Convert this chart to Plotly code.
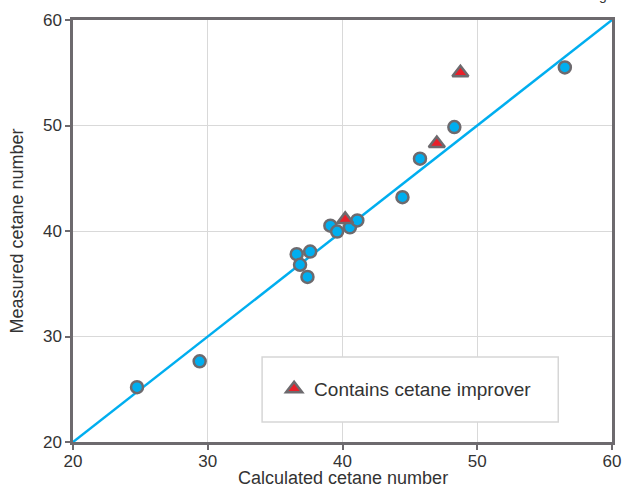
import plotly.graph_objects as go

# Data
calc_plain = [24.75, 29.4, 36.6, 36.85, 37.4, 37.6, 39.1, 39.6, 40.55, 41.1, 44.45, 45.75, 48.3, 56.5]
meas_plain = [25.2, 27.65, 37.8, 36.8, 35.65, 38.05, 40.5, 39.95, 40.35, 41.0, 43.2, 46.85, 49.85, 55.5]
calc_improver = [40.2, 47.0, 48.75]
meas_improver = [41.1, 48.3, 55.0]
parity_x = [20, 60]
parity_y = [20, 60]
tick_vals = [20, 30, 40, 50, 60]
x_title = "Calculated cetane number"
y_title = "Measured cetane number"
legend_label = "Contains cetane improver"

BLUE = "#00aeef"
RED = "#e8202a"
GREY = "#6d6a6e"
FONT = "Liberation Sans, Arial, sans-serif"
TXT = "#333333"

# plot area in page pixels: x 73..611.7, y 20..442
W, H = 622, 488
PL, PR, PT, PB = 73, 611.7, 20, 442
PW, PH = PR - PL, PB - PT


def px(xp):
    return (xp - PL) / PW


def py(yp):
    return (PB - yp) / PH


fig = go.Figure()
fig.add_trace(go.Scatter(x=parity_x, y=parity_y, mode="lines",
                         line=dict(color=BLUE, width=2.5), showlegend=False,
                         hoverinfo="skip", cliponaxis=False))
fig.add_trace(go.Scatter(x=calc_plain, y=meas_plain, mode="markers",
                         marker=dict(symbol="circle", size=12, color=BLUE,
                                     line=dict(color=GREY, width=2.5)),
                         showlegend=False))
fig.add_trace(go.Scatter(x=calc_improver, y=meas_improver, mode="markers",
                         name=legend_label,
                         marker=dict(symbol="triangle-up", size=14, color=RED,
                                     line=dict(color=GREY, width=2.5))))

axis_common = dict(range=[20, 60], tickvals=tick_vals, showgrid=True,
                   gridcolor="#d9d9d9", gridwidth=1, zeroline=False,
                   showline=True, linecolor=GREY, linewidth=2.5, mirror=True,
                   ticks="outside", ticklen=5, tickwidth=2, tickcolor=GREY,
                   automargin=False,
                   tickfont=dict(family=FONT, size=17, color=TXT))

fig.update_xaxes(**axis_common, ticklabelstandoff=-3)
fig.update_yaxes(**axis_common,
                 title=dict(text=y_title, standoff=15,
                            font=dict(family=FONT, size=18, color=TXT)))

# x-axis title placed as text under the axis
fig.add_annotation(text=x_title, xref="paper", yref="paper",
                   x=0.5, y=py(478), xanchor="center", yanchor="middle",
                   showarrow=False, font=dict(family=FONT, size=18, color=TXT))

# legend box
fig.add_shape(type="rect", xref="paper", yref="paper",
              x0=px(262), x1=px(558), y0=py(422), y1=py(357),
              line=dict(color="#d6d6d6", width=1.5), fillcolor="white", layer="above")

# text fragment clipped at the top edge of the reference
fig.add_annotation(text="g", xref="paper", yref="paper",
                   x=px(603), y=py(-5), xanchor="center", yanchor="middle",
                   showarrow=False, font=dict(family=FONT, size=14, color=TXT))

fig.update_layout(
    width=W, height=H,
    margin=dict(l=PL, r=W - PR, t=PT, b=H - PB),
    plot_bgcolor="white", paper_bgcolor="white",
    font=dict(family=FONT, color=TXT),
    legend=dict(x=px(274), y=py(389), xanchor="left", yanchor="middle",
                bgcolor="rgba(0,0,0,0)", borderwidth=0,
                font=dict(family=FONT, size=19, color=TXT)),
)

fig.write_html("out.html", config={"displayModeBar": False},
               post_script="document.body.style.margin='0';document.body.style.overflow='hidden';")
